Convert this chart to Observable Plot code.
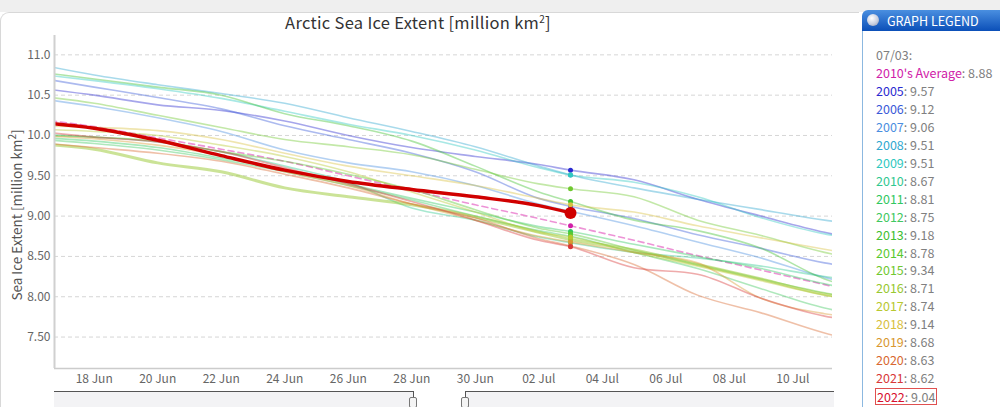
<!DOCTYPE html>
<html><head><meta charset="utf-8">
<script src="https://cdn.jsdelivr.net/npm/d3@7"></script>
<script src="https://cdn.jsdelivr.net/npm/@observablehq/plot@0.6"></script>
<style>
html,body{margin:0;padding:0;background:#fff;}
body{font-family:"Noto Sans CJK JP","Noto Sans",sans-serif;}
#wrap{position:relative;width:1000px;height:407px;overflow:hidden;background:#fff;}
#topstrip{position:absolute;left:0;top:0;width:1000px;height:12px;background:#efefef;}
#card{position:absolute;left:0;top:12px;width:858px;height:420px;background:#fff;border-top:1px solid #d8d8d8;border-left:1px solid #d8d8d8;border-radius:9px 0 0 0;}
#title{position:absolute;left:0;width:836px;top:10px;text-align:center;font-size:16.5px;color:#333;letter-spacing:0.3px;}
#title sup,#ylabel sup{font-size:10px;}
#ylabel{position:absolute;left:15px;top:215px;transform:translate(-50%,-50%) rotate(-90deg);white-space:nowrap;font-size:13.5px;color:#555;}
#chart{position:absolute;left:0;top:0;}
#legend{position:absolute;left:862px;top:10px;width:160px;height:420px;}
#lghead{position:absolute;left:0;top:0;width:150px;height:21px;border-radius:6px 0 0 0;background:linear-gradient(#4a8fe0,#0b4fb8);color:#fff;font-size:12.5px;line-height:21px;}
#lghead .ball{position:absolute;left:5px;top:4px;width:12px;height:12px;border-radius:50%;background:radial-gradient(circle at 40% 35%,#fff,#c8cfe0 55%,#8890a8);}
#lghead span{position:absolute;left:25px;}
#lgbody{position:absolute;left:0;top:21px;width:150px;height:400px;border-left:1.5px solid #8cb8e0;background:#fff;}
.li{position:absolute;left:13px;font-size:12.5px;color:#808080;white-space:nowrap;line-height:15px;}
.li.boxed{border:1px solid #e05050;padding:0 1px;left:12px;}
#nav{position:absolute;left:0;top:0;}
.navfill{position:absolute;top:391px;height:16px;background:#f3f3f5;border-top:1.5px solid #555;}
.navv{position:absolute;top:391px;width:1px;height:9px;background:#555;}
.handle{position:absolute;top:397px;width:6px;height:9px;border:1px solid #777;border-radius:2px;background:#f4f4f4;}
</style></head><body>
<div id="wrap">
  <div id="topstrip"></div>
  <div id="card"></div>
  <div id="chart"></div>
  <div id="title">Arctic Sea Ice Extent [million km<sup>2</sup>]</div>
  <div id="ylabel">Sea Ice Extent [million km<sup>2</sup>]</div>
  <div id="nav">
    <div class="navfill" style="left:54px;width:359px;"></div>
    <div class="navfill" style="left:465px;width:369px;"></div>
    <div class="navv" style="left:413px;"></div>
    <div class="navv" style="left:465px;"></div>
    <div class="handle" style="left:409px;"></div>
    <div class="handle" style="left:461px;"></div>
  </div>
  <div id="legend">
    <div id="lghead"><div class="ball"></div><span>GRAPH LEGEND</span></div>
    <div id="lgbody"></div>
  </div>
</div>
<script>
// ---- data ----
const dates = ["2022-06-16","2022-06-18","2022-06-20","2022-06-22","2022-06-24","2022-06-26","2022-06-28","2022-06-30","2022-07-02","2022-07-03","2022-07-05","2022-07-07","2022-07-09","2022-07-11","2022-07-12"];
const avg2010s = [10.21,10.11,9.97,9.83,9.68,9.50,9.32,9.14,8.97,8.88,8.70,8.51,8.33,8.15,8.06];
const y2005 = [10.60,10.50,10.38,10.31,10.18,10.00,9.85,9.74,9.64,9.57,9.45,9.21,9.00,8.80,8.72];
const y2006 = [10.73,10.60,10.47,10.33,10.12,9.95,9.78,9.55,9.22,9.12,8.97,8.77,8.60,8.42,8.36];
const y2007 = [10.47,10.36,10.22,10.05,9.82,9.66,9.55,9.38,9.15,9.06,8.88,8.68,8.48,8.24,8.15];
const y2008 = [10.90,10.75,10.63,10.52,10.40,10.22,10.05,9.86,9.62,9.51,9.35,9.21,9.08,8.95,8.90];
const y2009 = [10.77,10.68,10.58,10.46,10.30,10.14,10.00,9.82,9.60,9.51,9.42,9.24,8.98,8.78,8.72];
const y2010 = [10.02,9.98,9.92,9.80,9.62,9.42,9.10,8.95,8.74,8.67,8.55,8.48,8.38,8.25,8.20];
const y2011 = [9.98,9.93,9.85,9.72,9.58,9.40,9.22,9.05,8.87,8.81,8.65,8.50,8.35,8.16,8.08];
const y2012 = [9.96,9.90,9.82,9.70,9.55,9.38,9.20,9.00,8.82,8.75,8.55,8.35,8.10,7.86,7.78];
const y2013 = [10.80,10.70,10.60,10.50,10.27,10.12,9.93,9.62,9.30,9.18,8.95,8.82,8.60,8.22,8.10];
const y2014 = [10.00,9.98,9.93,9.80,9.68,9.52,9.33,9.08,8.85,8.78,8.58,8.40,8.22,8.05,7.98];
const y2015 = [10.50,10.40,10.25,10.10,9.95,9.86,9.76,9.58,9.40,9.34,9.24,8.95,8.76,8.55,8.47];
const y2016 = [9.90,9.83,9.66,9.55,9.35,9.24,9.14,8.99,8.80,8.71,8.58,8.40,8.22,8.03,7.97];
const y2017 = [10.08,10.05,10.00,9.88,9.74,9.55,9.30,9.05,8.80,8.74,8.55,8.38,8.20,8.02,7.95];
const y2018 = [10.12,10.10,10.06,9.95,9.78,9.62,9.50,9.38,9.22,9.14,9.05,8.88,8.73,8.59,8.52];
const y2019 = [10.00,9.96,9.88,9.75,9.55,9.38,9.15,8.95,8.75,8.68,8.55,8.42,7.98,7.79,7.74];
const y2020 = [9.92,9.85,9.78,9.68,9.52,9.35,9.15,8.98,8.72,8.63,8.40,8.02,7.80,7.55,7.45];
const y2021 = [10.06,9.98,9.92,9.80,9.60,9.40,9.18,8.95,8.70,8.62,8.36,8.28,7.98,7.76,7.70];
const y2022 = [10.17,10.09,9.94,9.75,9.57,9.43,9.33,9.24,9.13,9.04];
const seriesNames = ["2010's Average","2005","2006","2007","2008","2009","2010","2011","2012","2013","2014","2015","2016","2017","2018","2019","2020","2021","2022"];
const seriesValues = [avg2010s,y2005,y2006,y2007,y2008,y2009,y2010,y2011,y2012,y2013,y2014,y2015,y2016,y2017,y2018,y2019,y2020,y2021,y2022];
const seriesColors = ["#d020a8","#2a2ad0","#3a5ad8","#4a8ee0","#30a8d0","#30c8c0","#30c890","#30c860","#40c860","#40c030","#58c830","#70c830","#98c830","#b8c830","#d8c040","#d89830","#d86830","#d83838","#d81030"];
const markerDate = "2022-07-03";
const markerLabel = "07/03:";
const xTicks = ["2022-06-18","2022-06-20","2022-06-22","2022-06-24","2022-06-26","2022-06-28","2022-06-30","2022-07-02","2022-07-04","2022-07-06","2022-07-08","2022-07-10"];
const yTicks = [7.5,8.0,8.5,9.0,9.5,10.0,10.5,11.0];
const xDomain = ["2022-06-16T18:00Z","2022-07-11T06:00Z"];
const yDomain = [7.11,11.24];

// ---- build rows ----
const rows = [];
seriesNames.forEach((name,i)=>{
  seriesValues[i].forEach((v,j)=>{
    if (v != null) rows.push({series:name, date:new Date(dates[j]), value:v});
  });
});
const mDate = +new Date(markerDate);
const fontFam = '"Noto Sans CJK JP","Noto Sans",sans-serif';

const lineMarks = [];
seriesNames.forEach((name,i)=>{
  const data = rows.filter(r=>r.series===name);
  let opts = {x:"date", y:"value", stroke:seriesColors[i], strokeOpacity:0.42, strokeWidth:1.6, curve:"monotone-x", clip:true};
  if (i===0) opts = {...opts, stroke:"#e878cc", strokeOpacity:0.8, strokeWidth:1.6, strokeDasharray:"6,4"};
  if (name==="2016") opts = {...opts, strokeWidth:3, strokeOpacity:0.5};
  if (name==="2022") opts = {...opts, stroke:"#d00000", strokeOpacity:1, strokeWidth:3.5};
  lineMarks.push({i, mark:Plot.line(data, opts)});
});
const ordered = lineMarks.filter(d=>seriesNames[d.i]!=="2022").map(d=>d.mark);
const last = lineMarks.filter(d=>seriesNames[d.i]==="2022").map(d=>d.mark);

const markerRows = rows.filter(r=>+r.date===mDate);
const smallDots = markerRows.filter(r=>r.series!=="2022");
const bigDots = markerRows.filter(r=>r.series==="2022");
const colorOf = name => seriesColors[seriesNames.indexOf(name)];

const chart = Plot.plot({
  width: 850, height: 390,
  marginLeft: 54, marginRight: 18, marginTop: 35, marginBottom: 22,
  style: {fontFamily: fontFam, fontSize: "12px", color: "#666", background: "transparent", overflow: "visible"},
  x: {type: "utc", domain: xDomain.map(d=>new Date(d)), ticks: xTicks.map(d=>new Date(d)), tickFormat: d3.utcFormat("%d %b"), tickSize: 0, tickPadding: 6, label: null},
  y: {domain: yDomain, ticks: yTicks, tickFormat: d => d >= 10 ? d.toFixed(1) : d.toFixed(2), tickSize: 0, tickPadding: 4, label: null},
  marks: [
    Plot.ruleY(yTicks, {stroke: "#d6d6d6", strokeDasharray: "4,3", strokeWidth: 1}),
    Plot.ruleY([yDomain[0]], {stroke: "#cccccc", strokeWidth: 1.5}),
    ...ordered,
    ...last,
    Plot.ruleX([new Date(xDomain[0])], {stroke: "#d0d0d0", strokeWidth: 2}),
    Plot.dot(smallDots, {x: "date", y: "value", r: 2.5, fill: d => colorOf(d.series), stroke: "none"}),
    Plot.dot(bigDots, {x: "date", y: "value", r: 6, fill: "#d00000", stroke: "none"})
  ]
});
document.getElementById("chart").appendChild(chart);

// ---- legend ----
const body = document.getElementById("lgbody");
const header = document.createElement("div");
header.className = "li";
header.style.top = (55 - 31 - 8) + "px";
header.textContent = markerLabel;
body.appendChild(header);
seriesNames.forEach((name,i)=>{
  const r = markerRows.find(m=>m.series===name);
  const el = document.createElement("div");
  el.className = "li" + (name==="2022" ? " boxed" : "");
  el.style.top = (73 + i*17.95 - 31 - 8) + "px";
  const s = document.createElement("span");
  s.style.color = seriesColors[i];
  s.textContent = name;
  el.appendChild(s);
  el.appendChild(document.createTextNode(": " + (r ? r.value.toFixed(2) : "")));
  body.appendChild(el);
});
</script>
</body></html>
